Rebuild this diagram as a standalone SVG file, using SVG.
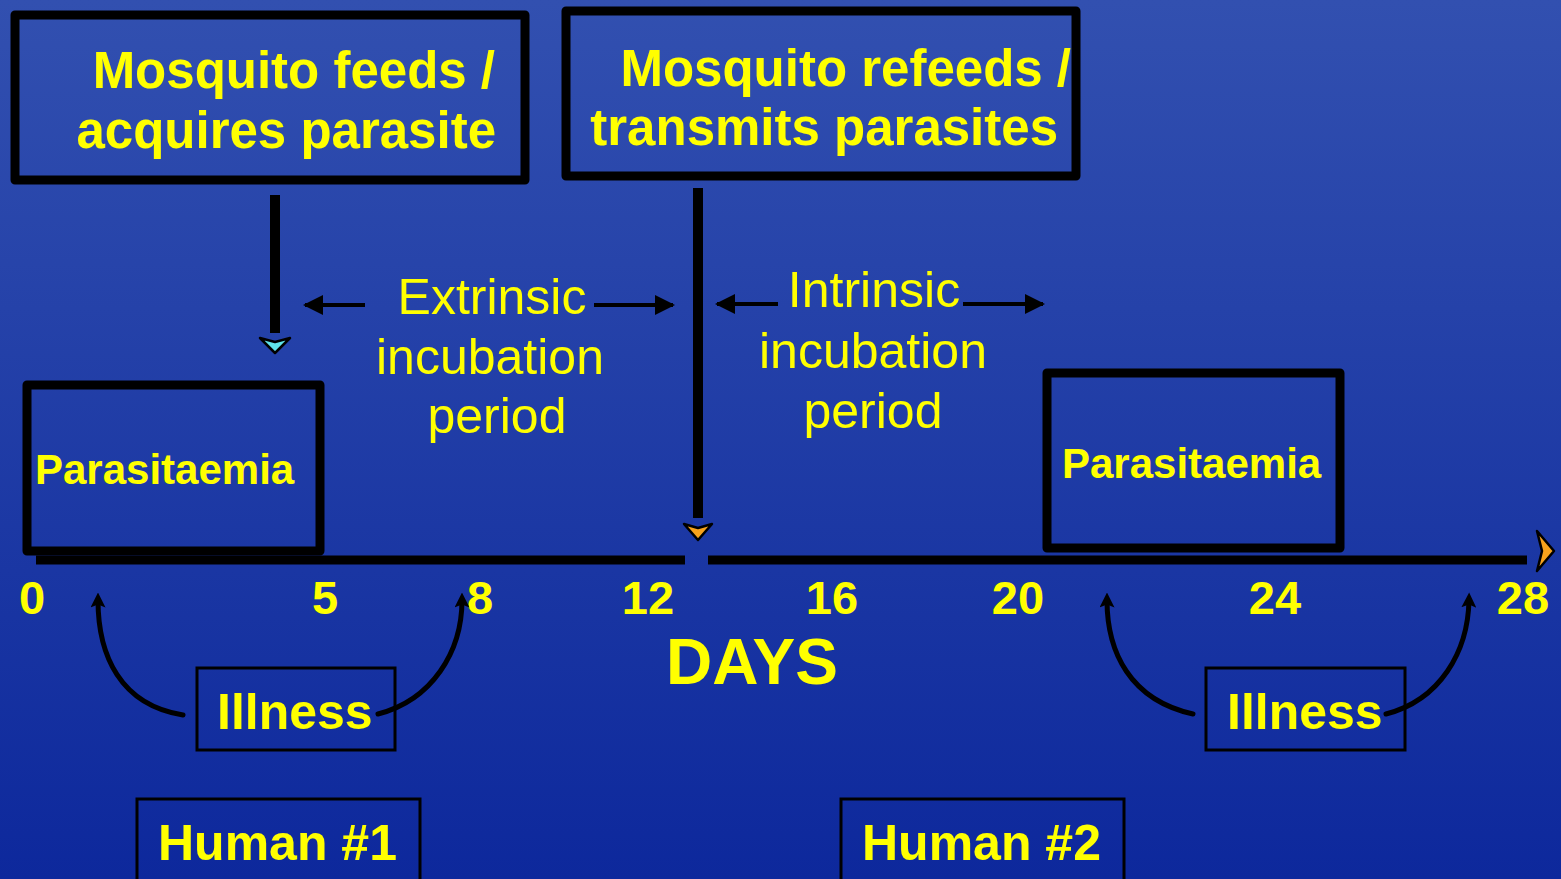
<svg xmlns="http://www.w3.org/2000/svg" width="1561" height="879" viewBox="0 0 1561 879">
<defs>
<linearGradient id="bg" x1="0" y1="0" x2="0" y2="1">
<stop offset="0" stop-color="#3250b0"/>
<stop offset="1" stop-color="#0d289c"/>
</linearGradient>
<marker id="ah" viewBox="0 0 10 10" refX="9" refY="5" markerWidth="5" markerHeight="5" orient="auto" markerUnits="strokeWidth">
<path d="M0,0 L10,5 L0,10 Z" fill="#000"/>
</marker>
<marker id="ahc" viewBox="0 0 10 10" refX="5" refY="5" markerWidth="3" markerHeight="3" orient="auto" markerUnits="strokeWidth">
<path d="M0,0 L10,5 L0,10 L2,5 Z" fill="#000"/>
</marker>
<style>
.box{fill:none;stroke:#000;stroke-width:9;stroke-linejoin:round}
.thin{fill:none;stroke:#000;stroke-width:3}
.t{fill:#ffff00;font-family:"Liberation Sans",Arial,sans-serif}
.b{font-weight:bold}
.ln{stroke:#000;fill:none}
.day{font-size:47px;text-anchor:middle}
</style>
</defs>
<rect x="0" y="0" width="1561" height="879" fill="url(#bg)"/>

<g id="feeds">
<rect class="box" x="15" y="15" width="510" height="165"/>
<text class="t b" font-size="51" text-anchor="end" x="495" y="88">Mosquito feeds /</text>
<text class="t b" font-size="51" text-anchor="end" x="496" y="148">acquires parasite</text>
</g>

<g id="refeeds">
<rect class="box" x="566" y="11" width="510" height="165"/>
<text class="t b" font-size="51" text-anchor="end" x="1071" y="86">Mosquito refeeds /</text>
<text class="t b" font-size="51" text-anchor="end" x="1058" y="145">transmits parasites</text>
</g>

<g id="parasitaemia1">
<rect class="box" x="27" y="385" width="293" height="166"/>
<text class="t b" font-size="42" x="35" y="484">Parasitaemia</text>
</g>

<g id="parasitaemia2">
<rect class="box" x="1047" y="373" width="293" height="175"/>
<text class="t b" font-size="42" x="1062" y="478">Parasitaemia</text>
</g>

<g id="extrinsic">
<text class="t" font-size="50" text-anchor="middle" x="492" y="314">Extrinsic</text>
<text class="t" font-size="50" text-anchor="middle" x="490" y="374">incubation</text>
<text class="t" font-size="50" text-anchor="middle" x="497" y="433">period</text>
</g>

<g id="intrinsic">
<text class="t" font-size="50" text-anchor="middle" x="874" y="307">Intrinsic</text>
<text class="t" font-size="50" text-anchor="middle" x="873" y="368">incubation</text>
<text class="t" font-size="50" text-anchor="middle" x="873" y="428">period</text>
</g>

<g id="illness1">
<rect class="thin" x="197" y="668" width="198" height="82"/>
<text class="t b" font-size="50" x="217" y="729">Illness</text>
</g>

<g id="illness2">
<rect class="thin" x="1206" y="668" width="199" height="82"/>
<text class="t b" font-size="50" x="1227" y="729">Illness</text>
</g>

<g id="human1">
<rect class="thin" x="137" y="799" width="283" height="90"/>
<text class="t b" font-size="50" x="158" y="860">Human #1</text>
</g>

<g id="human2">
<rect class="thin" x="841" y="799" width="283" height="90"/>
<text class="t b" font-size="50" x="862" y="860">Human #2</text>
</g>

<g id="days">
<text class="t b day" x="32" y="614">0</text>
<text class="t b day" x="325" y="614">5</text>
<text class="t b day" x="480" y="614">8</text>
<text class="t b day" x="648" y="614">12</text>
<text class="t b day" x="832" y="614">16</text>
<text class="t b day" x="1018" y="614">20</text>
<text class="t b day" x="1275" y="614">24</text>
<text class="t b day" x="1523" y="614">28</text>
<text class="t b" font-size="64" text-anchor="middle" x="752" y="684">DAYS</text>
</g>

<g id="connectors">
<line class="ln" x1="275" y1="195" x2="275" y2="333" stroke-width="10"/>
<polygon points="260,338 275,342 290,338 275,353" fill="#5fe3ea" stroke="#000" stroke-width="2.5" stroke-linejoin="round"/>
<line class="ln" x1="698" y1="188" x2="698" y2="518" stroke-width="10"/>
<polygon points="684,524 698,528 712,524 698,540" fill="#f7a21c" stroke="#000" stroke-width="2.5" stroke-linejoin="round"/>
<line class="ln" x1="36" y1="560" x2="685" y2="560" stroke-width="9"/>
<line class="ln" x1="708" y1="560" x2="1527" y2="560" stroke-width="9"/>
<polygon points="1537,531 1554,551 1537,571 1542,551" fill="#f7a21c" stroke="#000" stroke-width="2.5" stroke-linejoin="round"/>
<line class="ln" x1="365" y1="305" x2="305" y2="305" stroke-width="4" marker-end="url(#ah)"/>
<line class="ln" x1="594" y1="305" x2="673" y2="305" stroke-width="4" marker-end="url(#ah)"/>
<line class="ln" x1="778" y1="304" x2="717" y2="304" stroke-width="4" marker-end="url(#ah)"/>
<line class="ln" x1="963" y1="304" x2="1043" y2="304" stroke-width="4" marker-end="url(#ah)"/>
<path class="ln" d="M183,715 C120,705 98,655 98,600" stroke-width="5" stroke-linecap="round" marker-end="url(#ahc)"/>
<path class="ln" d="M378,714 C432,700 462,652 462,600" stroke-width="5" stroke-linecap="round" marker-end="url(#ahc)"/>
<path class="ln" d="M1193,714 C1130,700 1107,652 1107,600" stroke-width="5" stroke-linecap="round" marker-end="url(#ahc)"/>
<path class="ln" d="M1386,714 C1440,700 1468,652 1469,600" stroke-width="5" stroke-linecap="round" marker-end="url(#ahc)"/>
</g>
</svg>
